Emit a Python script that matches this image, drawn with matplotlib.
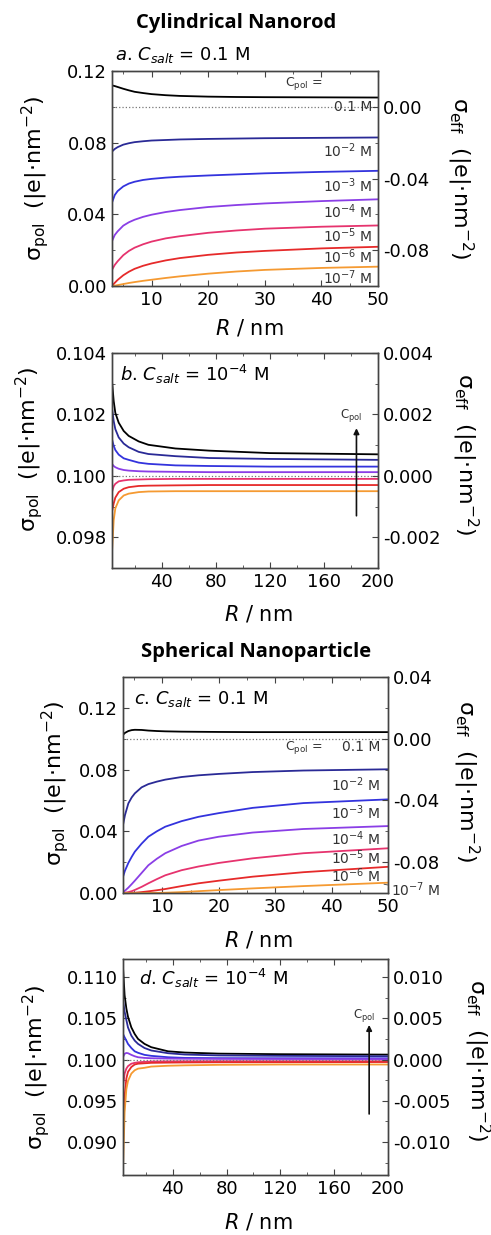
import numpy as np
import matplotlib.pyplot as plt
from matplotlib.ticker import MultipleLocator, FormatStrFormatter

plt.rcParams['font.family'] = 'DejaVu Sans'
plt.rcParams['mathtext.fontset'] = 'dejavusans'

# curve colours, from the highest C_pol (0.1 M) down to 1e-7 M
colors = ['#000000', '#2a2a96', '#3333dd', '#8a3ee6', '#e6336e', '#e62a2a', '#f59a32']
cpol_labels = ['0.1 M', '10$^{-2}$ M', '10$^{-3}$ M', '10$^{-4}$ M',
               '10$^{-5}$ M', '10$^{-6}$ M', '10$^{-7}$ M']

# a. cylinder, C_salt = 0.1 M
R_a = [3, 3.5, 4, 5, 6, 7, 8.5, 10, 12.5, 15, 20, 25, 30, 40, 50]
a_1e1 = [0.1120, 0.1116, 0.1111, 0.1101, 0.1092, 0.1084, 0.1077, 0.1071, 0.1065, 0.1061, 0.1057, 0.1055, 0.1054, 0.1053, 0.1052]
a_1e2 = [0.0750, 0.0765, 0.0775, 0.0789, 0.0797, 0.0803, 0.0808, 0.0812, 0.0815, 0.0818, 0.0821, 0.0823, 0.0825, 0.0827, 0.0829]
a_1e3 = [0.0465, 0.0508, 0.0530, 0.0556, 0.0572, 0.0582, 0.0592, 0.0598, 0.0605, 0.0610, 0.0617, 0.0623, 0.0629, 0.0637, 0.0643]
a_1e4 = [0.0250, 0.0285, 0.0305, 0.0337, 0.0356, 0.0370, 0.0386, 0.0398, 0.0413, 0.0424, 0.0441, 0.0452, 0.0461, 0.0474, 0.0484]
a_1e5 = [0.0090, 0.0118, 0.0138, 0.0172, 0.0196, 0.0214, 0.0233, 0.0248, 0.0266, 0.0278, 0.0297, 0.0310, 0.0320, 0.0331, 0.0338]
a_1e6 = [0.0000, 0.0018, 0.0034, 0.0060, 0.0080, 0.0096, 0.0113, 0.0126, 0.0143, 0.0156, 0.0174, 0.0187, 0.0196, 0.0210, 0.0219]
a_1e7 = [0.0000, 0.0002, 0.0005, 0.0011, 0.0017, 0.0022, 0.0029, 0.0035, 0.0045, 0.0054, 0.0069, 0.0081, 0.0090, 0.0101, 0.0108]

# b. cylinder, C_salt = 1e-4 M
R_b = [3, 4.3, 5.5, 8, 11.7, 15.4, 22.8, 30, 50, 75, 120, 200]
b_1e1 = [0.10310, 0.10243, 0.10205, 0.10173, 0.10146, 0.10130, 0.10112, 0.10101, 0.10089, 0.10082, 0.10074, 0.10070]
b_1e2 = [0.10222, 0.10178, 0.10152, 0.10125, 0.10105, 0.10093, 0.10078, 0.10071, 0.10064, 0.10058, 0.10055, 0.10052]
b_1e3 = [0.10119, 0.10098, 0.10084, 0.10069, 0.10057, 0.10052, 0.10043, 0.10039, 0.10034, 0.10032, 0.10030, 0.10030]
b_1e4 = [0.10039, 0.10032, 0.10028, 0.10023, 0.10019, 0.10017, 0.10015, 0.10014, 0.10013, 0.10012, 0.10012, 0.10012]
b_1e5 = [0.09947, 0.09966, 0.09974, 0.09982, 0.09985, 0.09987, 0.09988, 0.09989, 0.09990, 0.09990, 0.09990, 0.09990]
b_1e6 = [0.09883, 0.09910, 0.09929, 0.09947, 0.09958, 0.09963, 0.09967, 0.09968, 0.09969, 0.09970, 0.09970, 0.09970]
b_1e7 = [0.09748, 0.09856, 0.09894, 0.09920, 0.09936, 0.09942, 0.09947, 0.09949, 0.09950, 0.09950, 0.09950, 0.09950]

# c. sphere, C_salt = 0.1 M
R_c = [3, 3.35, 3.95, 4.55, 5.1, 6.3, 7.5, 9, 10.5, 13.4, 16.4, 20, 26, 35, 50]
c_1e1 = [0.1025, 0.1038, 0.1050, 0.1056, 0.1058, 0.1057, 0.1053, 0.1050, 0.1048, 0.1046, 0.1045, 0.1044, 0.1043, 0.1043, 0.1043]
c_1e2 = [0.0441, 0.0505, 0.0581, 0.0620, 0.0646, 0.0685, 0.0706, 0.0722, 0.0735, 0.0752, 0.0763, 0.0772, 0.0784, 0.0794, 0.0802]
c_1e3 = [0.0105, 0.0145, 0.0195, 0.0235, 0.0268, 0.0320, 0.0365, 0.0400, 0.0430, 0.0466, 0.0494, 0.0518, 0.0552, 0.0583, 0.0607]
c_1e4 = [0.0005, 0.0015, 0.0035, 0.0058, 0.0080, 0.0130, 0.0180, 0.0222, 0.0258, 0.0305, 0.0340, 0.0365, 0.0392, 0.0415, 0.0434]
c_1e5 = [0.0000, 0.0002, 0.0006, 0.0012, 0.0020, 0.0040, 0.0063, 0.0090, 0.0115, 0.0148, 0.0172, 0.0195, 0.0225, 0.0258, 0.0290]
c_1e6 = [0.0000, 0.0000, 0.0000, 0.0001, 0.0002, 0.0006, 0.0011, 0.0018, 0.0026, 0.0045, 0.0063, 0.0080, 0.0106, 0.0135, 0.0170]
c_1e7 = [0.0000, 0.0000, 0.0000, 0.0000, 0.0000, 0.0000, 0.0000, 0.0001, 0.0002, 0.0006, 0.0012, 0.0019, 0.0030, 0.0045, 0.0067]

# d. sphere, C_salt = 1e-4 M
R_d = [3, 4.2, 5.5, 6.7, 9.2, 11.7, 14.2, 19, 24, 36.5, 49, 74, 120, 200]
d_1e1 = [0.1112, 0.1078, 0.1062, 0.1052, 0.1039, 0.1031, 0.1025, 0.1019, 0.1015, 0.1010, 0.10085, 0.10072, 0.10065, 0.1006]
d_1e2 = [0.1072, 0.1058, 0.1048, 0.1039, 0.1029, 0.1023, 0.1019, 0.1014, 0.1011, 0.10077, 0.10061, 0.1005, 0.10045, 0.1004]
d_1e3 = [0.1031, 0.1027, 0.1023, 0.1019, 0.1014, 0.1010, 0.10082, 0.10057, 0.10045, 0.10028, 0.1002, 0.10017, 0.10016, 0.10015]
d_1e4 = [0.1003, 0.1007, 0.1008, 0.10077, 0.10057, 0.1004, 0.10028, 0.1002, 0.10016, 0.10012, 0.1001, 0.10008, 0.10007, 0.10006]
d_1e5 = [0.0968, 0.0983, 0.0989, 0.0992, 0.0995, 0.0996, 0.09967, 0.09972, 0.09976, 0.09978, 0.09979, 0.0998, 0.0998, 0.0998]
d_1e6 = [0.0899, 0.0956, 0.0977, 0.0985, 0.0991, 0.0994, 0.0995, 0.09955, 0.0996, 0.09963, 0.09965, 0.09967, 0.09968, 0.0997]
d_1e7 = [0.0867, 0.0936, 0.0964, 0.0974, 0.0983, 0.0987, 0.0989, 0.0990, 0.09915, 0.09925, 0.0993, 0.09936, 0.0994, 0.0994]

# where the C_pol tags sit in panels a and c (sigma_pol units)
tag_y_a = [0.0998, 0.0758, 0.0558, 0.0413, 0.0279, 0.0162, 0.0045]
tag_y_c = [0.0946, 0.0700, 0.0520, 0.0355, 0.0229, 0.0110, 0.0019]

SIGMA0 = 0.1  # sigma_eff = sigma_pol - SIGMA0


def style_axes(ax, ax2):
    for a in (ax, ax2):
        for s in a.spines.values():
            s.set_color('#444444')
            s.set_linewidth(1.0)
    ax.tick_params(which='both', direction='in', top=True, right=False,
                   labelsize=13, color='#444444')
    ax.tick_params(which='major', length=4)
    ax.tick_params(which='minor', length=2.5)
    ax2.tick_params(which='both', direction='in', labelsize=13, color='#444444')
    ax2.tick_params(which='major', length=4)
    ax2.tick_params(which='minor', length=2.5)


def panel(rect, R, curves, xlim, ylim, xmaj, ymaj, yfmt, ymaj2,
          lab_pos, lx, ly, rx, ry, xly):
    ax = fig.add_axes(rect)
    for y, c in zip(curves, colors):
        ax.plot(R, y, color=c, lw=1.3, solid_joinstyle='round')
    ax.axhline(SIGMA0, color='#777777', ls=':', lw=0.9)
    ax.set_xlim(*xlim)
    ax.set_ylim(*ylim)
    ax.xaxis.set_major_locator(MultipleLocator(xmaj))
    ax.xaxis.set_minor_locator(MultipleLocator(xmaj / 2))
    ax.yaxis.set_major_locator(MultipleLocator(ymaj))
    ax.yaxis.set_minor_locator(MultipleLocator(ymaj / 2))
    ax.yaxis.set_major_formatter(FormatStrFormatter(yfmt))

    ax2 = ax.twinx()
    ax2.set_ylim(ylim[0] - SIGMA0, ylim[1] - SIGMA0)
    ax2.yaxis.set_major_locator(MultipleLocator(ymaj2))
    ax2.yaxis.set_minor_locator(MultipleLocator(ymaj2 / 2))
    ax2.yaxis.set_major_formatter(FormatStrFormatter(yfmt))
    style_axes(ax, ax2)

    ax.text(lx, ly, 'σ$_{\\mathrm{pol}}$  (|e|·nm$^{-2}$)', transform=ax.transAxes,
            rotation=90, ha='center', va='center', fontsize=16)
    ax.text(rx, ry, 'σ$_{\\mathrm{eff}}$  (|e|·nm$^{-2}$)', transform=ax.transAxes,
            rotation=270, ha='center', va='center', fontsize=16)
    ax.text(lab_pos, xly, '$R$ / nm', transform=ax.transAxes,
            ha='center', va='center', fontsize=15)
    return ax


fig = plt.figure(figsize=(4.91, 12.35), dpi=100)

fig.text(0.481, 0.981, 'Cylindrical Nanorod', ha='center', va='center',
         fontsize=14.5, fontweight='bold', family='Open Sans')
fig.text(0.521, 0.472, 'Spherical Nanoparticle', ha='center', va='center',
         fontsize=14.5, fontweight='bold', family='Open Sans')

# a
ax_a = panel([0.228, 0.7684, 0.542, 0.1741], R_a,
             [a_1e1, a_1e2, a_1e3, a_1e4, a_1e5, a_1e6, a_1e7],
             (3, 50), (0.0, 0.12), 10, 0.04, '%.2f', 0.04,
             0.515, -0.29, 0.5, 1.31, 0.5, -0.195)
ax_a.text(0.01, 1.03, '$\\mathit{a}$. $C_{salt}$ = 0.1 M', transform=ax_a.transAxes,
          ha='left', va='bottom', fontsize=13)
ax_a.text(40.3, 0.1131, 'C$_{\\mathrm{pol}}$ =', ha='right', va='center',
          fontsize=9, color='#333333')
for t, y in zip(cpol_labels, tag_y_a):
    ax_a.text(49.0, y, t, ha='right', va='center', fontsize=10, color='#333333')

# b
ax_b = panel([0.228, 0.5401, 0.542, 0.1741], R_b,
             [b_1e1, b_1e2, b_1e3, b_1e4, b_1e5, b_1e6, b_1e7],
             (3, 200), (0.097, 0.104), 40, 0.002, '%.3f', 0.002,
             0.55, -0.31, 0.55, 1.327, 0.53, -0.214)
ax_b.text(0.03, 0.9, '$\\mathit{b}$. $C_{salt}$ = 10$^{-4}$ M', transform=ax_b.transAxes,
          ha='left', va='center', fontsize=13)
ax_b.annotate('', xy=(184, 0.10155), xytext=(184, 0.0987),
              arrowprops=dict(arrowstyle='-|>', color='#111111', lw=1.2,
                              mutation_scale=8, shrinkA=0, shrinkB=0))
ax_b.text(180, 0.10195, 'C$_{\\mathrm{pol}}$', ha='center', va='center', fontsize=8.5,
          color='#333333')

# c
ax_c = panel([0.2505, 0.2769, 0.5397, 0.1749], R_c,
             [c_1e1, c_1e2, c_1e3, c_1e4, c_1e5, c_1e6, c_1e7],
             (3, 50), (0.0, 0.14), 10, 0.04, '%.2f', 0.04,
             0.51, -0.257, 0.51, 1.294, 0.52, -0.218)
ax_c.text(0.04, 0.9, '$\\mathit{c}$. $C_{salt}$ = 0.1 M', transform=ax_c.transAxes,
          ha='left', va='center', fontsize=13)
ax_c.text(38.5, 0.0946, 'C$_{\\mathrm{pol}}$ =', ha='right', va='center',
          fontsize=9, color='#333333')
for t, y in zip(cpol_labels[:-1], tag_y_c[:-1]):
    ax_c.text(48.6, y, t, ha='right', va='center', fontsize=10, color='#333333')
ax_c.annotate(cpol_labels[-1], xy=(49.3, c_1e7[-1] - 0.001), xytext=(50.6, tag_y_c[-1]),
              ha='left', va='center', fontsize=10, color='#333333',
              arrowprops=dict(arrowstyle='-', color='#555555', lw=0.7,
                              shrinkA=0, shrinkB=0), annotation_clip=False)

# d
ax_d = panel([0.2505, 0.0486, 0.5397, 0.1749], R_d,
             [d_1e1, d_1e2, d_1e3, d_1e4, d_1e5, d_1e6, d_1e7],
             (3, 200), (0.086, 0.1122), 40, 0.005, '%.3f', 0.005,
             0.51, -0.33, 0.5, 1.336, 0.53, -0.218)
ax_d.text(0.06, 0.91, '$\\mathit{d}$. $C_{salt}$ = 10$^{-4}$ M', transform=ax_d.transAxes,
          ha='left', va='center', fontsize=13)
ax_d.annotate('', xy=(186, 0.1042), xytext=(186, 0.0934),
              arrowprops=dict(arrowstyle='-|>', color='#111111', lw=1.2,
                              mutation_scale=8, shrinkA=0, shrinkB=0))
ax_d.text(182, 0.1054, 'C$_{\\mathrm{pol}}$', ha='center', va='center', fontsize=8.5,
          color='#333333')

fig.savefig('out.png', dpi=100)
